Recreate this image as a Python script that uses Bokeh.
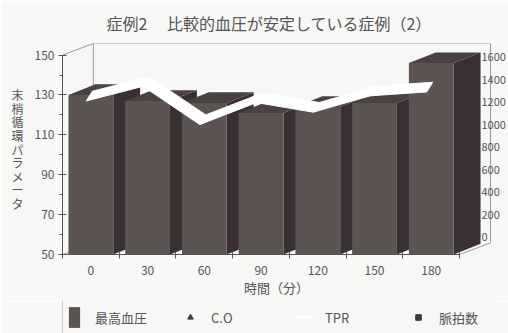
from bokeh.plotting import figure
from bokeh.layouts import column
from bokeh.models import (Range1d, LinearAxis, FixedTicker, ColumnDataSource,
                          Legend, LegendItem)
from bokeh.embed import file_html
from bokeh.resources import INLINE

# ---------------- data ----------------
title_text = "症例2　 比較的血圧が安定している症例（2）"
times = ["0", "30", "60", "90", "120", "150", "180"]          # 時間（分）
systolic = [130, 127, 126, 121, 124, 126, 146]                # 最高血圧 (left axis)
tpr = [1210, 1340, 1000, 1195, 1110, 1255, 1290]              # TPR (right axis)
co = [float("nan")]        # C.O   (not visible in the picture)
pulse = [float("nan")]     # 脈拍数 (not visible in the picture)
left_ticks = [50, 70, 90, 110, 130, 150]
left_minor = [60, 80, 100, 120, 140]
right_ticks = [0, 200, 400, 600, 800, 1000, 1200, 1400, 1600]
legend_labels = ["最高血圧", "C.O", "TPR", "脈拍数"]
x_label = "時間（分）"
y_label = "末梢循環パラメータ"

# ---------------- style / geometry ----------------
FONT = "Noto Sans CJK JP"
BG = "#f7f7f5"
TXT = "#555555"
FRONT = "#5c5452"
SIDE = "#3a3034"
TOP = "#4a4143"
WALL = "#9a9a9a"
NAN = float("nan")

W, H_MAIN, H_LEG = 508, 301, 32
F_L, F_R, F_T, F_B = 62, 492, 36, 254
CAT_PX = 57.0
YMIN, YMAX = 50, 150
PX_PER_Y = (F_B - 48) / (YMAX - YMIN)          # 150 sits at y=48
x_end = (F_R - F_L) / CAT_PX
y_end = YMAX + (48 - F_T) / PX_PER_Y
n = len(times)
wall_dx = x_end - n
wall_dy = y_end - YMAX

bar_hw = 22.5 / CAT_PX
bar_dx = 27 / CAT_PX
bar_dy = 11 / PX_PER_Y

# right (TPR) axis: 0 at y=236, 1600 at y=50
PX_PER_T = (236 - 50) / 1600.0
t_start = -(F_B - 236) / PX_PER_T
t_end = t_start + (F_B - F_T) / PX_PER_T
t_wall_bottom = -(F_B - 12 - 236) / PX_PER_T

p = figure(width=W, height=H_MAIN, output_backend="svg", toolbar_location=None,
           x_range=Range1d(0, x_end), y_range=Range1d(YMIN, y_end),
           x_axis_type=None, y_axis_type=None, title=title_text,
           min_border_left=F_L, min_border_right=W - F_R,
           min_border_top=F_T, min_border_bottom=H_MAIN - F_B)
p.extra_y_ranges = {"tpr": Range1d(t_start, t_end)}
p.background_fill_color = BG
p.border_fill_color = BG
p.outline_line_color = None

p.title.text_font = FONT
p.title.text_font_size = "16px"
p.title.text_font_style = "normal"
p.title.text_color = TXT
p.title.align = "left"
p.title.offset = 44
p.title.standoff = 17

# ---------------- back wall lines ----------------
wx = [[0, wall_dx], [wall_dx, n + wall_dx], [wall_dx, wall_dx],
      [n, n + wall_dx], [0, wall_dx]]
wy = [[YMAX, YMAX + wall_dy], [YMAX + wall_dy, YMAX + wall_dy],
      [YMIN + wall_dy, YMAX + wall_dy], [YMIN, YMIN + wall_dy], [YMIN, YMIN + wall_dy]]
p.multi_line(wx, wy, line_color=WALL, line_width=1)

# ---------------- 3D bars ----------------
xs, ys, cols = [], [], []
for i, v in enumerate(systolic):
    c = i + 0.5
    xl, xr = c - bar_hw, c + bar_hw
    xs.append([xr, xr + bar_dx, xr + bar_dx, xr])
    ys.append([YMIN, YMIN + bar_dy, v + bar_dy, v])
    cols.append(SIDE)
    xs.append([xl, xr, xr + bar_dx, xl + bar_dx])
    ys.append([v, v, v + bar_dy, v + bar_dy])
    cols.append(TOP)
    xs.append([xl, xr, xr, xl])
    ys.append([YMIN, YMIN, v, v])
    cols.append(FRONT)
bars = p.patches("xs", "ys", source=ColumnDataSource(dict(xs=xs, ys=ys, c=cols)),
                 fill_color="c", line_color=None)

# ---------------- TPR white ribbon ----------------
rib_a = 6 / CAT_PX
rib_b = 10 / PX_PER_T
px = [i + 0.5 - 0.08 for i in range(n)]
rxs, rys = [], []
for i in range(n - 1):
    rxs.append([px[i], px[i + 1], px[i + 1] + rib_a, px[i] + rib_a])
    rys.append([tpr[i], tpr[i + 1], tpr[i + 1] + rib_b, tpr[i] + rib_b])
ribbon = p.patches(rxs, rys, fill_color="white", line_color="white", line_width=1,
                   y_range_name="tpr")

# ---------------- axes ----------------
yax = LinearAxis(ticker=FixedTicker(ticks=left_ticks, minor_ticks=left_minor),
                 bounds=(YMIN, YMAX), axis_label="\n".join(y_label))
yax.axis_label_orientation = "horizontal"
yax.axis_label_text_font = FONT
yax.axis_label_text_font_size = "12px"
yax.axis_label_text_font_style = "normal"
yax.axis_label_text_color = TXT
yax.axis_label_text_line_height = 0.8
yax.axis_label_standoff = 8
yax.major_label_text_font = FONT
yax.major_label_text_font_size = "12px"
yax.major_label_text_color = TXT
yax.major_label_standoff = 4
yax.axis_line_color = "#555555"
yax.major_tick_line_color = "#555555"
yax.minor_tick_line_color = "#555555"
yax.major_tick_in = 4
yax.major_tick_out = 4
yax.minor_tick_in = 0
yax.minor_tick_out = 3
p.add_layout(yax, "left")

centers = [i + 0.5 for i in range(n)]
xax = LinearAxis(ticker=FixedTicker(ticks=centers, minor_ticks=list(range(n + 1))),
                 bounds=(0, n), axis_label=x_label,
                 major_label_overrides={c: t for c, t in zip(centers, times)})
xax.axis_label_text_font = FONT
xax.axis_label_text_font_size = "13px"
xax.axis_label_text_font_style = "normal"
xax.axis_label_text_color = TXT
xax.axis_label_standoff = 0
xax.major_label_text_font = FONT
xax.major_label_text_font_size = "12px"
xax.major_label_text_color = TXT
xax.major_label_standoff = 7
xax.axis_line_color = "#555555"
xax.major_tick_in = 0
xax.major_tick_out = 0
xax.minor_tick_line_color = "#555555"
xax.minor_tick_in = 3
xax.minor_tick_out = 4
p.add_layout(xax, "below")

rax = LinearAxis(y_range_name="tpr", ticker=FixedTicker(ticks=right_ticks, minor_ticks=[]),
                 bounds=(t_wall_bottom, t_end))
rax.axis_line_color = WALL
rax.major_tick_in = 0
rax.major_tick_out = 0
rax.minor_tick_in = 0
rax.minor_tick_out = 0
rax.major_label_standoff = -9
rax.major_label_text_font = FONT
rax.major_label_text_font_size = "11px"
rax.major_label_text_color = TXT
p.add_layout(rax, "right")

# ---------------- legend strip (own small figure under the chart) ----------------
p2 = figure(width=W, height=H_LEG, output_backend="svg", toolbar_location=None,
            x_range=Range1d(0, 1), y_range=Range1d(0, 1),
            x_axis_type=None, y_axis_type=None,
            min_border_left=0, min_border_right=0, min_border_top=0, min_border_bottom=0)
p2.background_fill_color = BG
p2.border_fill_color = BG
p2.outline_line_color = None

# legend proxies (no visible marks: NaN positions)
lg_bar = p2.quad(left=[NAN], right=[NAN], top=[NAN], bottom=[NAN],
                 fill_color=FRONT, line_color=None)
lg_co = p2.scatter(x=[NAN] * len(co), y=co, marker="triangle", size=8,
                   color="#3a3a3a")
lg_tpr = p2.line(x=[NAN], y=[NAN], line_color="white", line_width=3)
lg_pulse = p2.scatter(x=[NAN] * len(pulse), y=pulse, marker="square", size=8,
                      color="#3a3a3a")

legend = Legend(items=[
    LegendItem(label=legend_labels[0], renderers=[lg_bar]),
    LegendItem(label=legend_labels[1], renderers=[lg_co]),
    LegendItem(label=legend_labels[2], renderers=[lg_tpr]),
    LegendItem(label=legend_labels[3], renderers=[lg_pulse]),
], orientation="horizontal", location=(0, -2), margin=0,
    padding=4, spacing=36, glyph_width=14, glyph_height=26, label_height=26,
    label_width=50, label_standoff=14)
legend.label_text_font = FONT
legend.label_text_font_size = "13px"
legend.label_text_color = TXT
legend.border_line_color = "#a0a0a0"
legend.background_fill_color = BG
p2.add_layout(legend, "center")

layout = column(p, p2, spacing=0)
open("out.html", "w").write(file_html(layout, INLINE))
